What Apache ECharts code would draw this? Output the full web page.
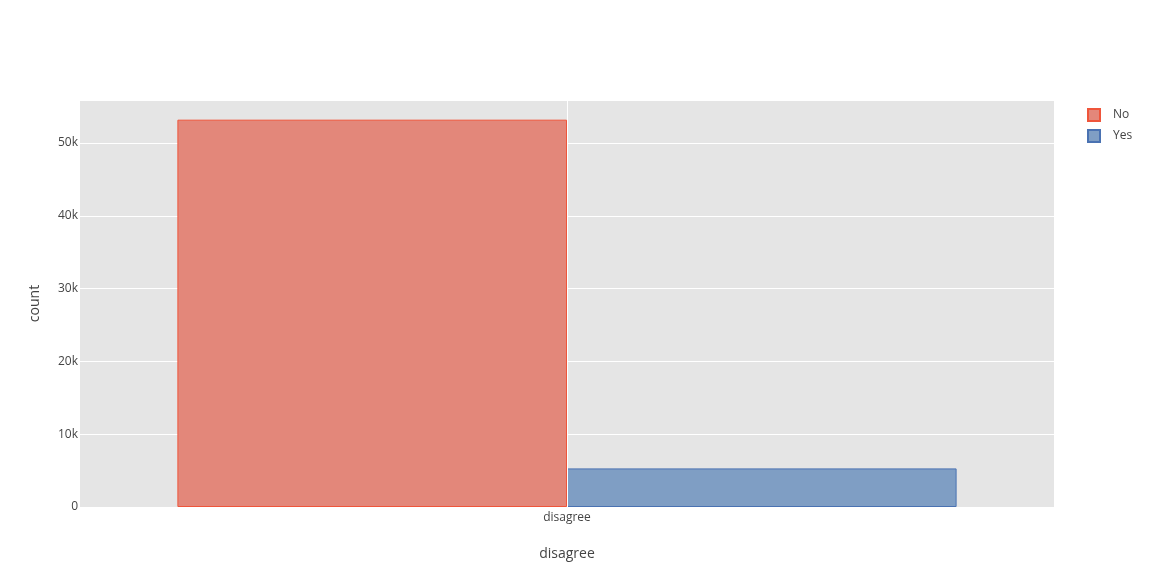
<!DOCTYPE html>
<html><head><meta charset="utf-8">
<script src="https://cdn.jsdelivr.net/npm/echarts@6/dist/echarts.min.js"></script>
<style>html,body{margin:0;padding:0;background:#fff}#c{width:1150px;height:587px}</style>
</head><body><div id="c"></div>
<script>
const categories = ['disagree'];
const seriesNames = ['No', 'Yes'];
const noValues = [53200];
const yesValues = [5300];
const yTicks = [0, 10000, 20000, 30000, 40000, 50000];

const chart = echarts.init(document.getElementById('c'));
const font = '"Open Sans", "Noto Sans", sans-serif';
chart.setOption({
  animation: false,
  textStyle: { fontFamily: font },
  grid: { left: 80, right: 96, top: 100, bottom: 80, show: true, backgroundColor: '#e5e5e5', borderWidth: 0 },
  legend: {
    orient: 'vertical', left: 1087, top: 108, padding: 0, itemWidth: 12, itemHeight: 12, itemGap: 7,
    icon: 'rect',
    textStyle: { color: '#444', fontSize: 12, fontFamily: font, lineHeight: 12, padding: [0, 0, 0, 8] },
    data: seriesNames
  },
  xAxis: {
    type: 'category', data: categories,
    name: 'disagree', nameLocation: 'middle', nameGap: 40,
    nameTextStyle: { color: '#444', fontSize: 14, fontFamily: font },
    axisLine: { show: false }, axisTick: { show: false },
    axisLabel: { color: '#444', fontSize: 12, margin: 5, fontFamily: font },
    splitLine: { show: false }
  },
  yAxis: {
    type: 'value', min: 0, max: 55900, interval: 10000,
    name: 'count', nameLocation: 'middle', nameGap: 38,
    nameTextStyle: { color: '#444', fontSize: 14, fontFamily: font },
    axisLine: { show: false }, axisTick: { show: false },
    axisLabel: { color: '#444', fontSize: 12, margin: 2, fontFamily: font,
      formatter: v => yTicks.includes(v) ? (v === 0 ? '0' : (v / 1000) + 'k') : '' },
    splitLine: { lineStyle: { color: '#ffffff', width: 1 } }
  },
  series: [
    {
      name: 'grid', type: 'line', data: [], z: 1, silent: true,
      markLine: { silent: true, symbol: 'none', label: { show: false },
        lineStyle: { color: '#ffffff', width: 1, type: 'solid' },
        data: [{ xAxis: 'disagree' }] }
    },
    {
      name: 'No', type: 'bar', data: noValues, z: 3, barGap: '0%', barCategoryGap: '20%',
      itemStyle: { color: '#e3877a', borderColor: '#ef553b', borderWidth: 1 }
    },
    {
      name: 'Yes', type: 'bar', data: yesValues, z: 3, barGap: '0%', barCategoryGap: '20%',
      itemStyle: { color: '#7f9ec4', borderColor: '#4a72b2', borderWidth: 1 }
    }
  ]
});
</script></body></html>
